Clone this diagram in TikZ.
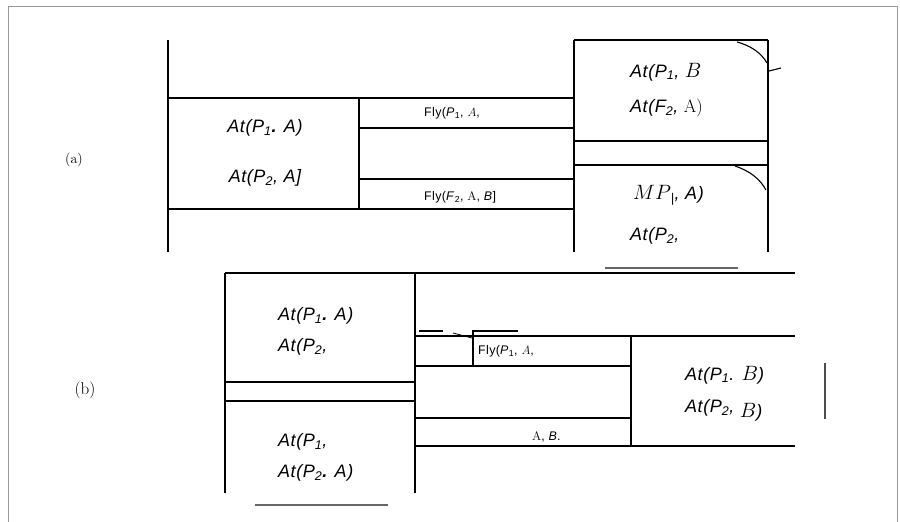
\documentclass[tikz,border=0pt]{standalone}
\usepackage{fontspec}
\setsansfont{Liberation Sans}
\begin{document}
\begin{tikzpicture}[x=1pt,y=-1pt,
  ln/.style={line width=1.1pt, black},
  frame/.style={line width=1pt, gray!80},
  greyln/.style={line width=1.2pt, gray!80!black},
  big/.style={font=\sffamily\itshape\fontsize{18}{20}\selectfont\addfontfeature{LetterSpace=3}, inner sep=1pt},
  small/.style={font=\sffamily\fontsize{12.5}{14}\selectfont\addfontfeature{LetterSpace=3}, inner sep=1pt},
  lab/.style={inner sep=1pt}]
\useasboundingbox (0,0) rectangle (900,522);
% frame
\draw[frame] (8,522) -- (8,6) -- (897,6) -- (897,522);
% ---------- panel (a)
\draw[ln] (168,40) -- (168,252);
\draw[ln] (168,98) -- (574,98);
\draw[ln] (168,209) -- (574,209);
\draw[ln] (359,98) -- (359,209);
\draw[ln] (359,128) -- (574,128);
\draw[ln] (359,179) -- (574,179);
\draw[ln] (574,40) -- (768,40);
\draw[ln] (574,40) -- (574,252);
\draw[ln] (768,40) -- (768,252);
\draw[ln] (574,141) -- (768,141);
\draw[ln] (574,165) -- (768,165);
\draw[ln] (737,42) .. controls (752,46) and (762,54) .. (767,63);
\draw[ln] (769,71) -- (781,68);
\draw[ln] (735,166) .. controls (750,171) and (760,179) .. (766,190);
\draw[greyln] (605,268) -- (738,268);
\node[lab, font=\rmfamily\fontsize{14}{16}\selectfont] (la) at (74,160) {(a)};
\node[big] (a1) at (265,128) {At(P\textsubscript{1}\textbf{.} A)};
\node[big] (a2) at (265,178) {At(P\textsubscript{2}, A]};
\node[small, anchor=west] (a3) at (423,113) {Fly(\textit{P}\textsubscript{1}, $A$,};
\node[small, anchor=west] (a4) at (423,197) {Fly(\textit{F}\textsubscript{2}, {\rmfamily A}, \textit{B}]};
\node[big, anchor=west] (a5) at (629,72) {At(P\textsubscript{1}, {\rmfamily\fontsize{22}{24}\selectfont$B$}};
\node[big, anchor=west] (a6) at (629,108) {At(F\textsubscript{2}, {\upshape\rmfamily A)}};
\node[big, anchor=west] (a7) at (632,195) {{\rmfamily\fontsize{22}{24}\selectfont$MP$}\textsubscript{|}, A)};
\node[big, anchor=west] (a8) at (629,236) {At(P\textsubscript{2},};
% ---------- panel (b)
\draw[ln] (225,273) -- (795,273);
\draw[ln] (225,273) -- (225,493);
\draw[ln] (415,273) -- (415,493);
\draw[ln] (225,382) -- (415,382);
\draw[ln] (225,401) -- (415,401);
\draw[ln] (415,336) -- (795,336);
\draw[ln] (415,366) -- (631,366);
\draw[ln] (415,418) -- (631,418);
\draw[ln] (415,446) -- (795,446);
\draw[ln] (631,336) -- (631,446);
\draw[line width=2pt] (419,331) -- (443,331);
\draw[line width=0.8pt] (453,333) -- (472,338);
\draw[ln] (473,367) -- (473,331) -- (518,331);
\draw[line width=1.6pt, gray!60!black] (825,363) -- (825,419);
\draw[greyln] (255,505) -- (388,505);
\node[lab, font=\rmfamily\fontsize{17}{19}\selectfont] (lb) at (85,390) {(b)};
\node[big, anchor=west] (b1) at (277,316) {At(P\textsubscript{1}\textbf{.} A)};
\node[big, anchor=west] (b2) at (277,347) {At(P\textsubscript{2},};
\node[big, anchor=west] (b3) at (277,442) {At(P\textsubscript{1},};
\node[big, anchor=west] (b4) at (277,473) {At(P\textsubscript{2}\textbf{.} A)};
\node[small, anchor=west] (b5) at (477,351) {Fly(\textit{P}\textsubscript{1}, $A$,};
\node[small, anchor=west] (b6) at (531,437) {{\rmfamily A}, \textit{B}.};
\node[big, anchor=west] (b7) at (684,375) {At(P\textsubscript{1}. {\rmfamily\fontsize{22}{24}\selectfont$B$})};
\node[big, anchor=west] (b8) at (684,410) {At(P\textsubscript{2}, \raisebox{-5pt}{{\rmfamily\fontsize{22}{24}\selectfont$B$})}};
\end{tikzpicture}
\end{document}
